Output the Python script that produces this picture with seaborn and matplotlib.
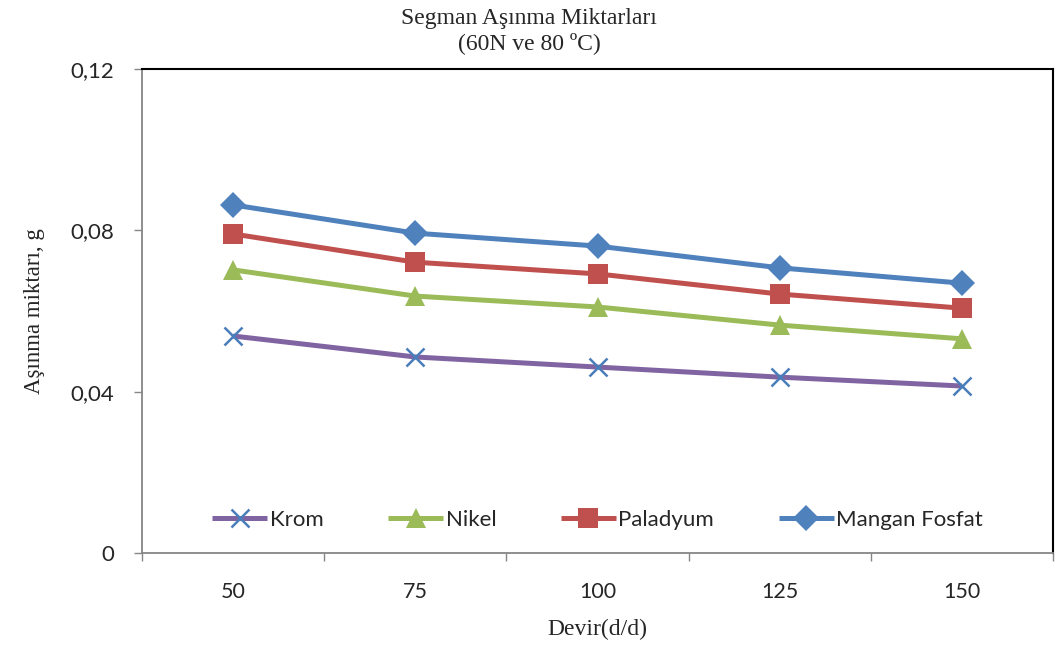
import numpy as np
import pandas as pd
import matplotlib
matplotlib.use("Agg")
import matplotlib.pyplot as plt
import seaborn as sns

# Wear amounts (g) of piston rings at different speeds
devir = ["50", "75", "100", "125", "150"]
krom = [0.0538, 0.0486, 0.0461, 0.0436, 0.0414]
nikel = [0.0702, 0.0637, 0.0610, 0.0565, 0.0531]
paladyum = [0.0791, 0.0721, 0.0692, 0.0642, 0.0607]
mangan_fosfat = [0.0863, 0.0793, 0.0761, 0.0707, 0.0669]

series = ["Krom", "Nikel", "Paladyum", "Mangan Fosfat"]
values = [krom, nikel, paladyum, mangan_fosfat]

sns.set_theme(style="white")
plt.rcParams["font.family"] = ["Lato", "DejaVu Sans"]

pos = np.arange(len(devir)) + 0.5
df = pd.concat(
    [pd.DataFrame({"pos": pos, "deger": v, "seri": s}) for s, v in zip(series, values)],
    ignore_index=True,
)

line_colors = {"Krom": "#8064A2", "Nikel": "#9BBB59", "Paladyum": "#C0504D", "Mangan Fosfat": "#4F81BD"}
marker_colors = {"Krom": "#4A7EBB", "Nikel": "#9BBB59", "Paladyum": "#C0504D", "Mangan Fosfat": "#4F81BD"}
markers = {"Krom": "x", "Nikel": "^", "Paladyum": "s", "Mangan Fosfat": "D"}
msizes = {"Krom": 13, "Nikel": 14, "Paladyum": 14, "Mangan Fosfat": 13}

fig = plt.figure(figsize=(10.58, 6.55), dpi=100)
ax = fig.add_axes([142 / 1058, 1 - 553 / 655, (1053 - 142) / 1058, (553 - 69) / 655])

for s in series:
    sub = df[df["seri"] == s]
    sns.lineplot(
        data=sub, x="pos", y="deger", ax=ax, color=line_colors[s], linewidth=3.6,
        marker=markers[s], markersize=msizes[s], markerfacecolor=marker_colors[s],
        markeredgecolor=marker_colors[s], markeredgewidth=1.8 if s == "Krom" else 0,
        label=s, solid_capstyle="butt",
    )

ax.set_xlim(0, len(devir))
ax.set_ylim(0, 0.12)
ax.set_yticks([0, 0.04, 0.08, 0.12])
ax.set_yticklabels(["0", "0,04", "0,08", "0,12"], fontsize=16)
ax.set_xticks(np.arange(len(devir) + 1))
ax.set_xticklabels([])
ax.set_xticks(pos, minor=True)
ax.set_xticklabels(devir, minor=True, fontsize=15.5)
ax.tick_params(axis="x", which="major", direction="out", length=6, width=1, color="#868686", bottom=True)
ax.tick_params(axis="x", which="minor", length=0, pad=21)
ax.tick_params(axis="y", direction="out", length=6, width=1, color="#868686", left=True, pad=14)

for side in ["left", "bottom"]:
    ax.spines[side].set_color("#868686")
    ax.spines[side].set_linewidth(1.3)
for side in ["top", "right"]:
    ax.spines[side].set_color("black")
    ax.spines[side].set_linewidth(1.5)

serif = ["Liberation Serif", "DejaVu Serif"]
ax.set_xlabel("Devir(d/d)", fontsize=17, family=serif, labelpad=12)
ax.set_ylabel("Aşınma miktarı, g", fontsize=16.5, family=serif, labelpad=18)
fig.text(0.5, 1 - 31 / 655, "Segman Aşınma Miktarları\n(60N ve 80 ºC)",
         ha="center", va="center", fontsize=17, family=serif, linespacing=1.2)

leg = ax.legend(loc="center", bbox_to_anchor=(0.5, (553 - 520) / (553 - 69)), ncol=4, frameon=False,
                fontsize=16, handlelength=2.5, handletextpad=0.1, columnspacing=2.9)

fig.savefig("out.png", dpi=100)
